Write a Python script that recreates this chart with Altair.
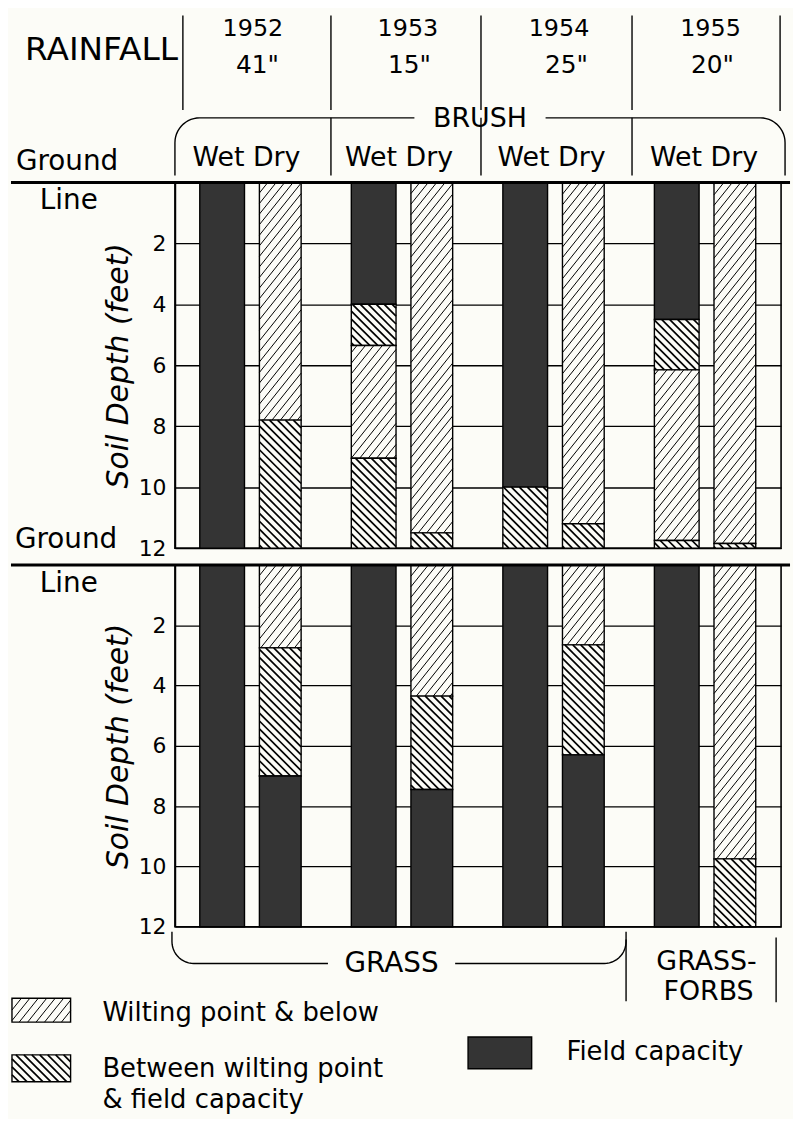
import altair as alt
import numpy as np
import pandas as pd

# ---------------- data ----------------
years = ["1952", "1953", "1954", "1955"]
rainfall = ['41"', '15"', '25"', '20"']
conditions = ["Wet", "Dry"]
class_names = {
    "W": "Wilting point & below",
    "B": "Between wilting point & field capacity",
    "F": "Field capacity",
}
# bars in order 1952 Wet, 1952 Dry, 1953 Wet, ... ; classes from the surface down,
# depths (feet) where each class ends
brush_classes = [["F"], ["W", "B"], ["F", "B", "W", "B"], ["W", "B"],
                 ["F", "B"], ["W", "B"], ["F", "B", "W", "B"], ["W", "B"]]
brush_depths = [[12], [7.8, 12], [4.0, 5.35, 9.05, 12], [11.5, 12],
                [10.0, 12], [11.2, 12], [4.5, 6.15, 11.75, 12], [11.85, 12]]
grass_classes = [["F"], ["W", "B", "F"], ["F"], ["W", "B", "F"],
                 ["F"], ["W", "B", "F"], ["F"], ["W", "B"]]
grass_depths = [[12], [2.75, 7.0, 12], [12], [4.35, 7.45, 12],
                [12], [2.65, 6.3, 12], [12], [9.75, 12]]
depth_ticks = [2, 4, 6, 8, 10, 12]

# ---------------- layout / style ----------------
FONT = "DejaVu Sans"
BG = "#fcfcf7"
DARK = "#343434"
PLOT_W = 610
GROUP_W = 152.5
BAR_X = {"Wet": (25, 70), "Dry": (85, 127)}
TOP_H, BOT_H, HEAD_H, FOOT_H = 368, 364, 155, 173
HATCH = {"W": dict(slope=-1.25, step=8.5, width=1.0),
         "B": dict(slope=1.0, step=8.0, width=1.7)}
YEAR_X = [78.5, 234.5, 386.5, 539]
RAIN_X = [83, 236, 394, 541]
WETDRY_X = [72, 225.5, 379, 532.5]


def hatch_lines(x0, x1, y0, y1, kind):
    m = HATCH[kind]["slope"]
    dc = abs(m) * HATCH[kind]["step"]
    cs = [y0 - m * x0, y0 - m * x1, y1 - m * x0, y1 - m * x1]
    k0, k1 = int(np.floor(min(cs) / dc)), int(np.ceil(max(cs) / dc))
    out = []
    for k in range(k0, k1 + 1):
        c = k * dc
        a, b = sorted([(y0 - c) / m, (y1 - c) / m])
        xa, xb = max(x0, a), min(x1, b)
        if xb - xa > 0.3:
            out.append((xa, c + m * xa, xb, c + m * xb))
    return out


def text_layer(df, xs, ys, align, size, style="normal"):
    return alt.Chart(df).mark_text(
        font=FONT, fontSize=size, align=align, baseline="alphabetic",
        color="black", fontStyle=style
    ).encode(
        x=alt.X("x:Q", scale=xs, axis=None),
        y=alt.Y("y:Q", scale=ys, axis=None),
        text="t:N",
    )


def arc(cx, cy, r, a0, a1, n=14):
    a = np.radians(np.linspace(a0, a1, n))
    return list(zip(cx + r * np.cos(a), cy + r * np.sin(a)))


def lines_layer(pieces, xs, ys, width=1.4):
    rows = []
    for pi, pts in enumerate(pieces):
        for oi, (px, py) in enumerate(pts):
            rows.append(dict(piece=pi, o=oi, x=px, y=py))
    return alt.Chart(pd.DataFrame(rows)).mark_line(
        color="black", strokeWidth=width, interpolate="linear"
    ).encode(
        x=alt.X("x:Q", scale=xs, axis=None),
        y=alt.Y("y:Q", scale=ys, axis=None),
        detail="piece:N",
        order="o:Q",
    )


def panel(classes, depths, height, extra_texts):
    ppf = height / 12.0
    seg_rows, hatch_rows = [], []
    i = 0
    for gi, yr in enumerate(years):
        for cond in conditions:
            x0 = gi * GROUP_W + BAR_X[cond][0]
            x1 = gi * GROUP_W + BAR_X[cond][1]
            top = 0.0
            for cls, bot in zip(classes[i], depths[i]):
                seg_rows.append(dict(year=yr, cond=cond, cls=class_names[cls],
                                     x0=x0, x1=x1, top=top, bottom=bot))
                if cls in HATCH:
                    for xa, ya, xb, yb in hatch_lines(x0, x1, top * ppf, bot * ppf, cls):
                        hatch_rows.append(dict(x=xa, y=ya / ppf, x2=xb, y2=yb / ppf,
                                               w=HATCH[cls]["width"]))
                top = bot
            i += 1
    seg = pd.DataFrame(seg_rows)
    hat = pd.DataFrame(hatch_rows)
    xs = alt.Scale(domain=[0, PLOT_W])
    ys = alt.Scale(domain=[0, 12], reverse=True)
    yaxis = alt.Axis(
        values=depth_ticks, grid=True, gridColor="black", gridWidth=1.3, gridOpacity=1,
        ticks=False, domain=True, domainColor="black", domainWidth=1.6,
        labelFont=FONT, labelFontSize=22, labelColor="black", labelPadding=9,
        title="Soil Depth (feet)", titleFont=FONT, titleFontSize=30,
        titleFontStyle="italic", titleFontWeight="normal", titleColor="black",
        titleX=-57, titleY=height / 2, titleAlign="center", titleBaseline="middle",
    )
    bars = alt.Chart(seg).mark_rect(stroke="black", strokeWidth=1.4).encode(
        x=alt.X("x0:Q", scale=xs, axis=None), x2="x1:Q",
        y=alt.Y("top:Q", scale=ys, axis=yaxis), y2="bottom:Q",
        fill=alt.Fill("cls:N", scale=alt.Scale(domain=list(class_names.values()),
                                               range=[BG, BG, DARK]), legend=None),
    )
    hatch = alt.Chart(hat).mark_rule(color="black").encode(
        x=alt.X("x:Q", scale=xs, axis=None), x2="x2:Q",
        y=alt.Y("y:Q", scale=ys, axis=yaxis), y2="y2:Q",
        strokeWidth=alt.StrokeWidth("w:Q", scale=None),
    )
    ground = alt.Chart(pd.DataFrame({"x": [-165], "x2": [619], "y": [0]})).mark_rule(
        color="black", strokeWidth=3
    ).encode(
        x=alt.X("x:Q", scale=xs, axis=None), x2="x2:Q",
        y=alt.Y("y:Q", scale=ys, axis=yaxis),
    )
    layers = [bars, hatch, ground]
    for label, px, py in extra_texts:
        layers.append(
            alt.Chart(pd.DataFrame({"t": [label]})).mark_text(
                font=FONT, fontSize=28, align="left", baseline="alphabetic", color="black"
            ).encode(x=alt.value(px), y=alt.value(py), text="t:N")
        )
    return alt.layer(*layers).properties(
        width=PLOT_W, height=height,
        view=alt.ViewBackground(stroke="black", strokeWidth=1.6),
    )


# ---------------- header ----------------
hx = alt.Scale(domain=[0, PLOT_W])
hy = alt.Scale(domain=[0, HEAD_H], reverse=True)
R = 25
head_layers = [
    text_layer(pd.DataFrame({"x": [3], "y": [49], "t": ["RAINFALL"]}), hx, hy, "right", 33),
    text_layer(pd.DataFrame({"x": YEAR_X, "y": [25] * 4, "t": years}), hx, hy, "center", 24),
    text_layer(pd.DataFrame({"x": RAIN_X, "y": [62] * 4, "t": rainfall}), hx, hy, "center", 25),
    text_layer(pd.DataFrame({"x": [307], "y": [116], "t": ["BRUSH"]}), hx, hy, "center", 27),
    text_layer(pd.DataFrame({"x": WETDRY_X, "y": [155] * 4,
                             "t": [" ".join(conditions)] * 4}), hx, hy, "center", 27),
    text_layer(pd.DataFrame({"x": [-160], "y": [159], "t": ["Ground"]}), hx, hy, "left", 28),
    alt.Chart(pd.DataFrame({"x": [8, 157, 308, 460, 609, 157, 308, 460],
                            "y": [4, 4, 4, 4, 4, 107, 107, 107],
                            "y2": [99, 99, 99, 99, 100, 165, 165, 165]})).mark_rule(
        color="black", strokeWidth=1.4
    ).encode(x=alt.X("x:Q", scale=hx, axis=None),
             y=alt.Y("y:Q", scale=hy, axis=None), y2="y2:Q"),
    lines_layer([
        [(0, 165), (0, 107 + R)] + arc(R, 107 + R, R, 180, 270) + [(241, 107)],
        [(373, 107)] + arc(614 - R, 107 + R, R, 270, 360) + [(614, 165)],
    ], hx, hy),
]
header = alt.layer(*head_layers).properties(width=PLOT_W, height=HEAD_H)

# ---------------- panels ----------------
top_panel = panel(brush_classes, brush_depths, TOP_H,
                  [("Line", -136, 27), ("Ground", -161, TOP_H)])
bottom_panel = panel(grass_classes, grass_depths, BOT_H, [("Line", -136, 27)])

# ---------------- footer (brace + legend) ----------------
fx = alt.Scale(domain=[0, PLOT_W])
fy = alt.Scale(domain=[0, FOOT_H], reverse=True)
Rg = 22
leg_boxes = pd.DataFrame({
    "x0": [-164, -164, 295], "x1": [-105, -105, 359],
    "y0": [55, 112, 94], "y1": [79, 139, 126],
    "cls": [class_names["W"], class_names["B"], class_names["F"]],
})
leg_hatch = []
for kind, (x0, x1, y0, y1) in [("W", (-164, -105, 55, 79)), ("B", (-164, -105, 112, 139))]:
    for xa, ya, xb, yb in hatch_lines(x0, x1, y0, y1, kind):
        leg_hatch.append(dict(x=xa, y=ya, x2=xb, y2=yb, w=HATCH[kind]["width"]))
leg_hatch = pd.DataFrame(leg_hatch)

foot_layers = [
    lines_layer([
        [(-3, -12), (-3, 20 - Rg)] + arc(-3 + Rg, 20 - Rg, Rg, 180, 90) + [(154, 20)],
        [(282, 20)] + arc(454 - Rg, 20 - Rg, Rg, 90, 0) + [(454, -12)],
    ], fx, fy),
    text_layer(pd.DataFrame({"x": [218], "y": [29], "t": ["GRASS"]}), fx, fy, "center", 28),
    text_layer(pd.DataFrame({"x": [535, 537], "y": [27, 57], "t": ["GRASS-", "FORBS"]}),
               fx, fy, "center", 27),
    alt.Chart(pd.DataFrame({"x": [454, 605], "y": [-4, -6], "y2": [58, 59]})).mark_rule(
        color="black", strokeWidth=1.4
    ).encode(x=alt.X("x:Q", scale=fx, axis=None),
             y=alt.Y("y:Q", scale=fy, axis=None), y2="y2:Q"),
    alt.Chart(leg_boxes).mark_rect(stroke="black", strokeWidth=1.4).encode(
        x=alt.X("x0:Q", scale=fx, axis=None), x2="x1:Q",
        y=alt.Y("y0:Q", scale=fy, axis=None), y2="y1:Q",
        fill=alt.Fill("cls:N", scale=alt.Scale(domain=list(class_names.values()),
                                               range=[BG, BG, DARK]), legend=None),
    ),
    alt.Chart(leg_hatch).mark_rule(color="black").encode(
        x=alt.X("x:Q", scale=fx, axis=None), x2="x2:Q",
        y=alt.Y("y:Q", scale=fy, axis=None), y2="y2:Q",
        strokeWidth=alt.StrokeWidth("w:Q", scale=None),
    ),
    text_layer(pd.DataFrame({"x": [-73, -73, -73, 394], "y": [78, 134, 165, 117],
                             "t": ["Wilting point & below", "Between wilting point",
                                   "& field capacity", "Field capacity"]}),
               fx, fy, "left", 26),
]
footer = alt.layer(*foot_layers).properties(width=PLOT_W, height=FOOT_H)

chart = alt.vconcat(header, top_panel, bottom_panel, footer, spacing=17, bounds="flush").properties(
    padding=0, background=BG
).configure_view(stroke=None)

chart.save("out.html", embed_options={"renderer": "svg", "actions": False})
